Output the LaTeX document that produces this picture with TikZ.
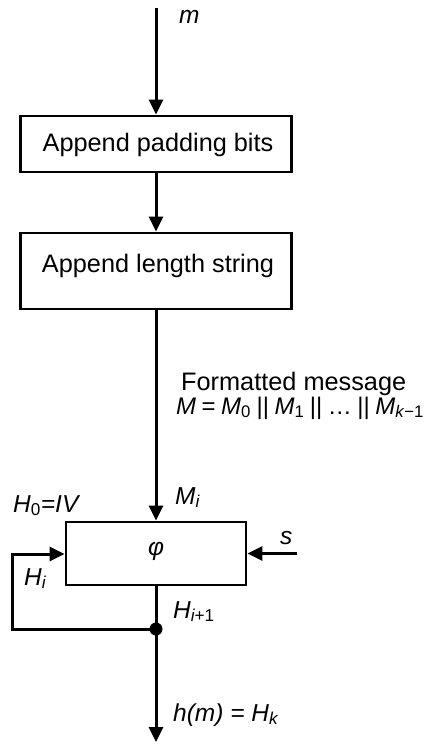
\documentclass[tikz,border=0pt]{standalone}
\usepackage{fontspec}
\setmainfont{Liberation Sans}
\usetikzlibrary{arrows.meta}
\newcommand\sbx[1]{\textsubscript{#1}}
\newcommand\gp{\hspace{5.5pt}}
\begin{document}
\begin{tikzpicture}[x=1pt,y=-1pt,
  box/.style={draw,line width=2.8pt,inner sep=0pt},
  arr/.style={line width=3pt,-{Triangle[length=15pt,width=14pt]}},
  wire/.style={line width=3pt},
  lbl/.style={inner sep=0pt,font=\fontsize{24.5}{24.5}\selectfont\itshape},
  txt/.style={inner sep=0pt,font=\fontsize{25.3}{25.3}\selectfont}]
\useasboundingbox (0,0) rectangle (427,746);
% boxes
\node[box,minimum width=271pt,minimum height=56pt] (b1) at (156,144) {};
\node[box,minimum width=271pt,minimum height=76pt] (b2) at (156,271) {};
\node[box,minimum width=180pt,minimum height=63pt] (phi) at (156,553.5) {};
\node[txt,anchor=base] (t1) at (158,151.5) {Append padding bits};
\node[txt,anchor=base] (t2) at (158,272.5) {Append length string};
\node[lbl,anchor=base] (phil) at (156,555) {φ};
% coordinates
\coordinate (in) at (156,8);
\coordinate (out) at (156,742);
\coordinate (fbl) at (12,629);
\coordinate (fbt) at (12,554);
\coordinate (sin) at (297,553.5);
\node[circle,fill,inner sep=0pt,minimum size=13pt] (dot) at (156,629) {};
% connectors
\draw[arr] (in) -- (b1.north);
\draw[arr] (b1.south) -- (b2.north);
\draw[arr] (b2.south) -- (phi.north);
\draw[wire] (phi.south) -- (dot.center);
\draw[arr] (dot.center) -- (out);
\draw[arr] (dot.center) -- (fbl) -- (fbt) -- (fbt -| phi.west);
\draw[arr] (sin) -- (phi.east);
% labels
\node[lbl,anchor=base west] (lm) at (179,24) {m};
\node[txt,anchor=base west] (lf) at (181,390) {Formatted message};
\node[inner sep=0pt,font=\fontsize{24}{24}\selectfont,anchor=base west] (lM) at (176,414) {\textit{M}\gp=\gp\textit{M}\sbx{0}\gp||\gp\textit{M}\sbx{1}\gp||\gp…\gp||\gp\textit{M}\sbx{\textit{k}−1}};
\node[lbl,anchor=base west] (lMi) at (175,504) {M\sbx{i}};
\node[lbl,anchor=base west] (lH0) at (13,512) {H\sbx{\upshape 0}=IV};
\node[lbl,anchor=base west] (lHi) at (24,585) {H\sbx{i}};
\node[lbl,anchor=base west] (ls) at (280,544) {s};
\node[lbl,anchor=base west] (lHi1) at (173,618) {H\sbx{i\upshape +1}};
\node[lbl,anchor=base west] (lh) at (173,721) {h(m) = H\sbx{k}};
\end{tikzpicture}
\end{document}
